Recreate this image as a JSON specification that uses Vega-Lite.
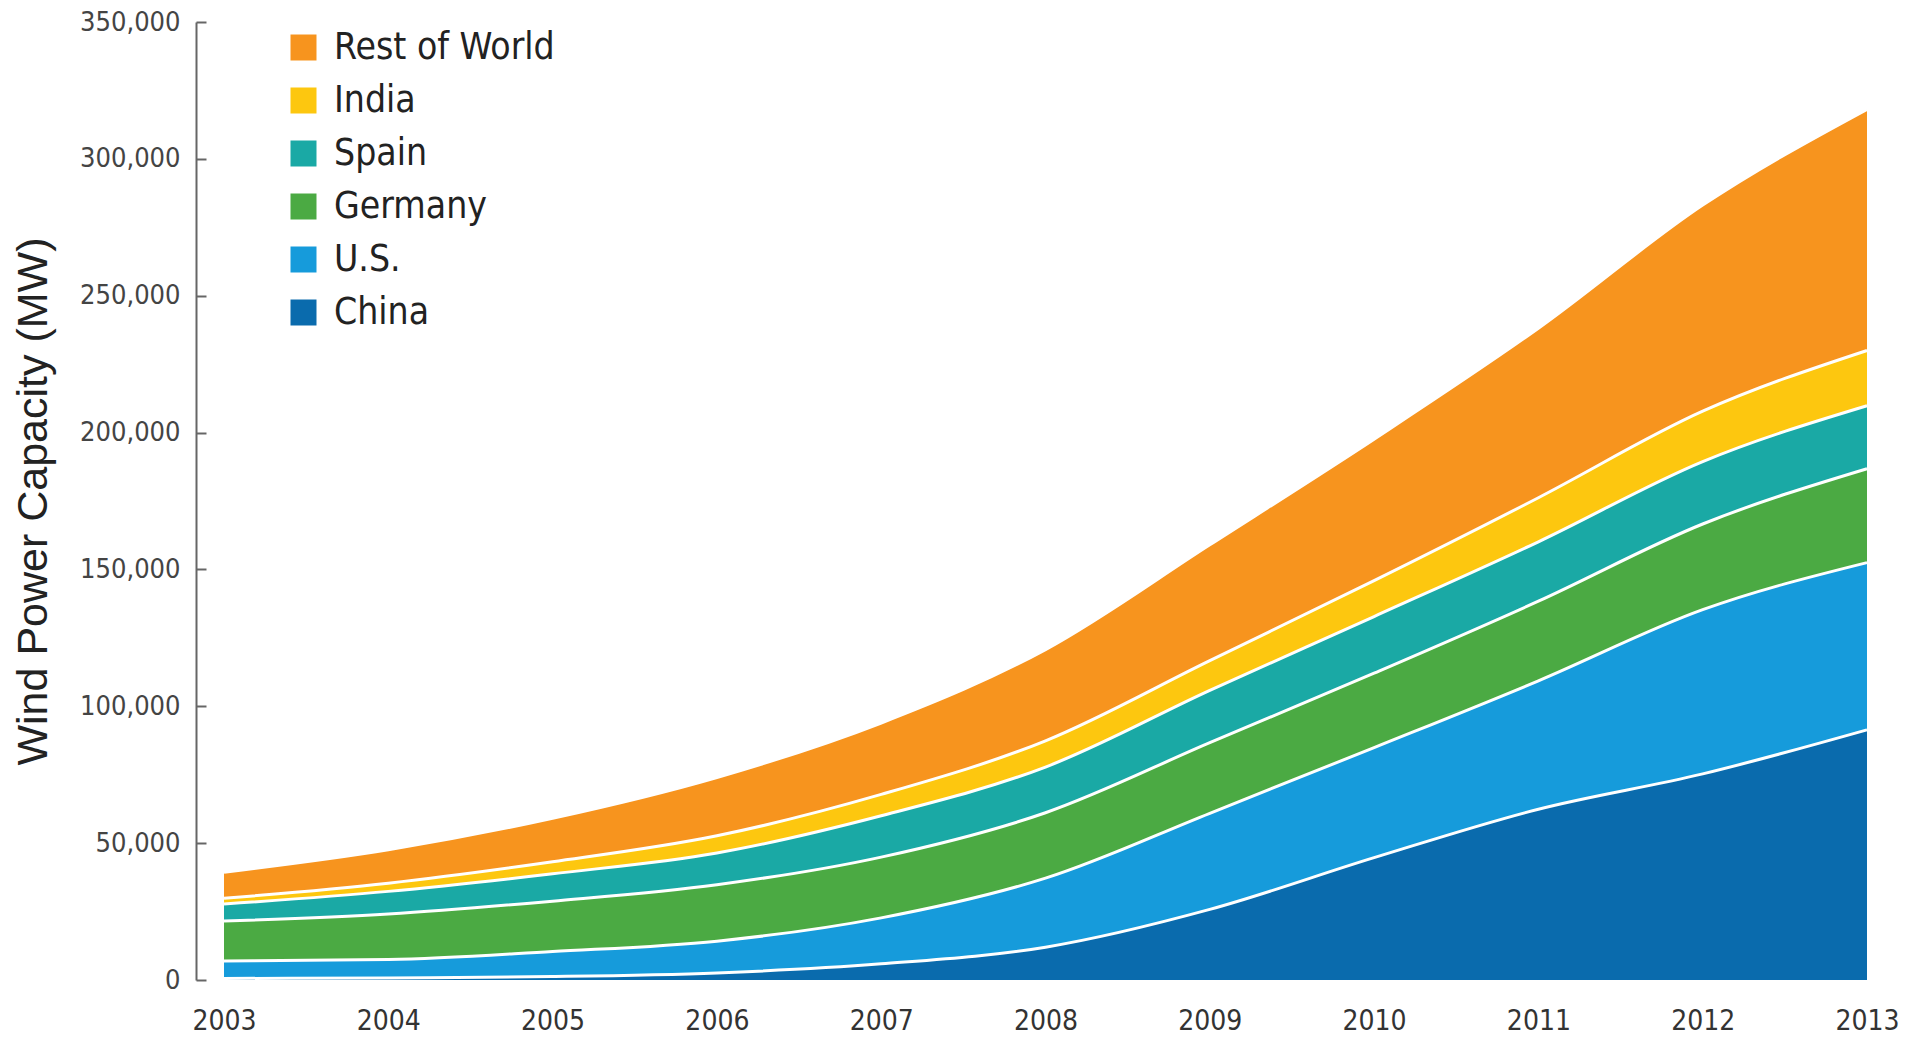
{
  "$schema": "https://vega.github.io/schema/vega-lite/v6.json",
  "width": 1643,
  "height": 958,
  "autosize": {"type": "none"},
  "padding": {"left": 224, "top": 22, "right": 50, "bottom": 65},
  "background": "white",
  "config": {"view": {"stroke": null}, "font": "DejaVu Sans Condensed"},
  "data": {"values": [
    {"year": 2003, "country": "China", "order": 1, "mw": 570},
    {"year": 2004, "country": "China", "order": 1, "mw": 760},
    {"year": 2005, "country": "China", "order": 1, "mw": 1260},
    {"year": 2006, "country": "China", "order": 1, "mw": 2600},
    {"year": 2007, "country": "China", "order": 1, "mw": 5900},
    {"year": 2008, "country": "China", "order": 1, "mw": 12000},
    {"year": 2009, "country": "China", "order": 1, "mw": 25800},
    {"year": 2010, "country": "China", "order": 1, "mw": 44700},
    {"year": 2011, "country": "China", "order": 1, "mw": 62400},
    {"year": 2012, "country": "China", "order": 1, "mw": 75300},
    {"year": 2013, "country": "China", "order": 1, "mw": 91400},
    {"year": 2003, "country": "U.S.", "order": 2, "mw": 6370},
    {"year": 2004, "country": "U.S.", "order": 2, "mw": 6720},
    {"year": 2005, "country": "U.S.", "order": 2, "mw": 9150},
    {"year": 2006, "country": "U.S.", "order": 2, "mw": 11600},
    {"year": 2007, "country": "U.S.", "order": 2, "mw": 16800},
    {"year": 2008, "country": "U.S.", "order": 2, "mw": 25200},
    {"year": 2009, "country": "U.S.", "order": 2, "mw": 35100},
    {"year": 2010, "country": "U.S.", "order": 2, "mw": 40200},
    {"year": 2011, "country": "U.S.", "order": 2, "mw": 46900},
    {"year": 2012, "country": "U.S.", "order": 2, "mw": 60000},
    {"year": 2013, "country": "U.S.", "order": 2, "mw": 61100},
    {"year": 2003, "country": "Germany", "order": 3, "mw": 14600},
    {"year": 2004, "country": "Germany", "order": 3, "mw": 16600},
    {"year": 2005, "country": "Germany", "order": 3, "mw": 18400},
    {"year": 2006, "country": "Germany", "order": 3, "mw": 20600},
    {"year": 2007, "country": "Germany", "order": 3, "mw": 22200},
    {"year": 2008, "country": "Germany", "order": 3, "mw": 23900},
    {"year": 2009, "country": "Germany", "order": 3, "mw": 25800},
    {"year": 2010, "country": "Germany", "order": 3, "mw": 27200},
    {"year": 2011, "country": "Germany", "order": 3, "mw": 29100},
    {"year": 2012, "country": "Germany", "order": 3, "mw": 31300},
    {"year": 2013, "country": "Germany", "order": 3, "mw": 34300},
    {"year": 2003, "country": "Spain", "order": 4, "mw": 6200},
    {"year": 2004, "country": "Spain", "order": 4, "mw": 8300},
    {"year": 2005, "country": "Spain", "order": 4, "mw": 10000},
    {"year": 2006, "country": "Spain", "order": 4, "mw": 11600},
    {"year": 2007, "country": "Spain", "order": 4, "mw": 15100},
    {"year": 2008, "country": "Spain", "order": 4, "mw": 16700},
    {"year": 2009, "country": "Spain", "order": 4, "mw": 19100},
    {"year": 2010, "country": "Spain", "order": 4, "mw": 20700},
    {"year": 2011, "country": "Spain", "order": 4, "mw": 21700},
    {"year": 2012, "country": "Spain", "order": 4, "mw": 22800},
    {"year": 2013, "country": "Spain", "order": 4, "mw": 23000},
    {"year": 2003, "country": "India", "order": 5, "mw": 2100},
    {"year": 2004, "country": "India", "order": 5, "mw": 3000},
    {"year": 2005, "country": "India", "order": 5, "mw": 4400},
    {"year": 2006, "country": "India", "order": 5, "mw": 6300},
    {"year": 2007, "country": "India", "order": 5, "mw": 7800},
    {"year": 2008, "country": "India", "order": 5, "mw": 9600},
    {"year": 2009, "country": "India", "order": 5, "mw": 10900},
    {"year": 2010, "country": "India", "order": 5, "mw": 13100},
    {"year": 2011, "country": "India", "order": 5, "mw": 16100},
    {"year": 2012, "country": "India", "order": 5, "mw": 18400},
    {"year": 2013, "country": "India", "order": 5, "mw": 20200},
    {"year": 2003, "country": "Rest of World", "order": 6, "mw": 9560},
    {"year": 2004, "country": "Rest of World", "order": 6, "mw": 12220},
    {"year": 2005, "country": "Rest of World", "order": 6, "mw": 15890},
    {"year": 2006, "country": "Rest of World", "order": 6, "mw": 21300},
    {"year": 2007, "country": "Rest of World", "order": 6, "mw": 26100},
    {"year": 2008, "country": "Rest of World", "order": 6, "mw": 33300},
    {"year": 2009, "country": "Rest of World", "order": 6, "mw": 42300},
    {"year": 2010, "country": "Rest of World", "order": 6, "mw": 51700},
    {"year": 2011, "country": "Rest of World", "order": 6, "mw": 61900},
    {"year": 2012, "country": "Rest of World", "order": 6, "mw": 75300},
    {"year": 2013, "country": "Rest of World", "order": 6, "mw": 88100}
  ]},
  "encoding": {
    "x": {
      "field": "year", "type": "quantitative",
      "scale": {"domain": [2003, 2013], "nice": false, "zero": false},
      "axis": {
        "values": [2003, 2004, 2005, 2006, 2007, 2008, 2009, 2010, 2011, 2012, 2013],
        "format": "d", "domain": false, "ticks": false, "grid": false,
        "labelFontSize": 28, "labelPadding": 27, "labelColor": "#333333",
        "labelFlush": false, "title": null
      }
    },
    "y": {
      "field": "mw", "type": "quantitative", "stack": "zero",
      "scale": {"domain": [0, 350000], "nice": false},
      "axis": {
        "values": [0, 50000, 100000, 150000, 200000, 250000, 300000, 350000],
        "format": ",.0f", "offset": 28, "grid": false,
        "tickSize": -10, "labelPadding": 26,
        "domainColor": "#666666", "tickColor": "#666666", "domainWidth": 2, "tickWidth": 2,
        "labelFontSize": 27, "labelColor": "#444444",
        "title": "Wind Power Capacity (MW)", "titleFont": "Liberation Sans",
        "titleFontSize": 43, "titleFontWeight": 500, "titleColor": "#222222",
        "titlePadding": 24
      }
    },
    "order": {"field": "order", "type": "quantitative"}
  },
  "layer": [
    {
      "mark": {"type": "area", "interpolate": "monotone"},
      "encoding": {
        "color": {
          "field": "country", "type": "nominal",
          "scale": {
            "domain": ["Rest of World", "India", "Spain", "Germany", "U.S.", "China"],
            "range": ["#F7941E", "#FDC70F", "#1AA9A5", "#4BAA43", "#169BDB", "#0A6BAD"]
          },
          "legend": {
            "orient": "none", "legendX": 61, "legendY": 7,
            "title": null, "symbolType": "square", "symbolSize": 676,
            "symbolStrokeWidth": 0, "symbolOpacity": 1,
            "labelFontSize": 37, "labelFont": "DejaVu Sans Condensed",
            "labelColor": "#222222", "labelOffset": 12, "rowPadding": 15,
            "labelLimit": 500
          }
        }
      }
    },
    {
      "mark": {"type": "line", "interpolate": "monotone", "color": "white", "strokeWidth": 3},
      "encoding": {"detail": {"field": "country", "type": "nominal"}}
    }
  ]
}
